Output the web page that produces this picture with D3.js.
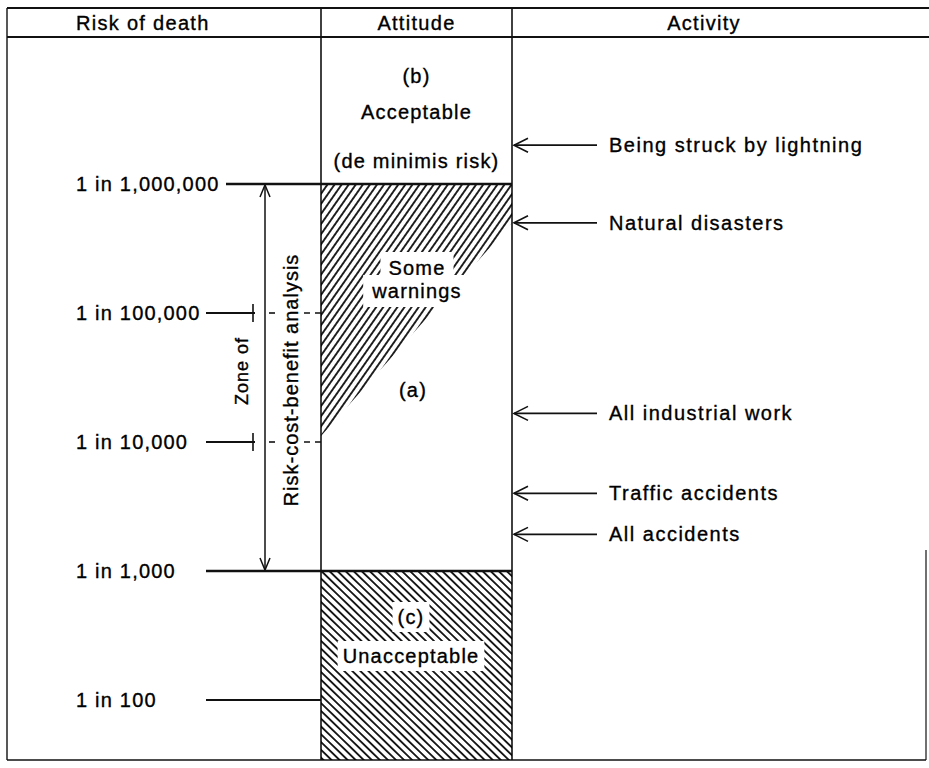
<!DOCTYPE html>
<html>
<head>
<meta charset="utf-8">
<script src="https://cdn.jsdelivr.net/npm/d3@7"></script>
<style>
  body { margin: 0; background: #fff; }
  text { font-family: "Liberation Sans", Arial, sans-serif; fill: #000; stroke: #000; stroke-width: 0.35px; }
</style>
</head>
<body>
<svg id="chart"></svg>
<script>
// ---- data ----
var headers = ["Risk of death", "Attitude", "Activity"];
var riskLevels = [1e-6, 1e-5, 1e-4, 1e-3, 1e-2];
var riskLabels = ["1 in 1,000,000", "1 in 100,000", "1 in 10,000", "1 in 1,000", "1 in 100"];
var activities = ["Being struck by lightning", "Natural disasters", "All industrial work", "Traffic accidents", "All accidents"];
var activityRisk = [5e-7, 2e-6, 6e-5, 2.5e-4, 5.2e-4];
var zoneBounds = [1e-6, 1e-3];          // risk-cost-benefit zone
var warningEdge = [2e-6, 9e-5];         // "some warnings" wedge: right side, left side
var acceptableText = ["(b)", "Acceptable", "(de minimis risk)"];
var warningText = ["Some", "warnings"];
var unacceptableText = ["(c)", "Unacceptable"];

var W = 929, H = 768;
var frame = {left: 7, right: 926, top: 8, header: 37, bottom: 760};
var colX = [frame.left, 321, 512, frame.right];

var svg = d3.select("#chart").attr("width", W).attr("height", H);

var y = d3.scaleLog().domain([1e-6, 1e-2]).range([184, 700]);

// hatch patterns
var defs = svg.append("defs");
function hatch(id, angle, gap) {
  var p = defs.append("pattern")
      .attr("id", id)
      .attr("patternUnits", "userSpaceOnUse")
      .attr("width", gap).attr("height", 12)
      .attr("patternTransform", "rotate(" + angle + ")");
  p.append("line")
      .attr("x1", gap / 2).attr("x2", gap / 2)
      .attr("y1", -1).attr("y2", 13)
      .attr("stroke", "#000").attr("stroke-width", 1.7);
}
hatch("hatch-warn", 35, 5.8);
hatch("hatch-bad", -46, 5.6);

// ---- table frame ----
var g = svg.append("g").attr("stroke", "#111").attr("fill", "none");

g.append("line").attr("x1", frame.left).attr("x2", W).attr("y1", frame.top).attr("y2", frame.top).attr("stroke-width", 1.8);
g.append("line").attr("x1", frame.left).attr("x2", W).attr("y1", frame.header).attr("y2", frame.header).attr("stroke-width", 1.8);
g.append("line").attr("x1", frame.left).attr("x2", frame.right).attr("y1", frame.bottom).attr("y2", frame.bottom).attr("stroke-width", 1.4);
g.append("line").attr("x1", frame.left).attr("x2", frame.left).attr("y1", frame.top).attr("y2", frame.bottom).attr("stroke-width", 1.4);
g.append("line").attr("x1", frame.right).attr("x2", frame.right).attr("y1", 550).attr("y2", frame.bottom).attr("stroke-width", 1.2);

// header text
var headerX = [76, (colX[1] + colX[2]) / 2, 704];
svg.selectAll(".header")
  .data(headers)
  .enter()
  .append("text")
  .attr("class", "header")
  .attr("x", function(d, i) { return headerX[i]; })
  .attr("y", 30)
  .attr("text-anchor", function(d, i) { return i === 0 ? "start" : "middle"; })
  .style("font-size", "20px")
  .style("letter-spacing", "1.3px")
  .text(function(d) { return d; });

// ---- attitude column ----
// unacceptable block
svg.append("rect")
  .attr("x", colX[1]).attr("y", y(zoneBounds[1]))
  .attr("width", colX[2] - colX[1])
  .attr("height", frame.bottom - y(zoneBounds[1]))
  .attr("fill", "url(#hatch-bad)");

// warnings wedge
svg.append("path")
  .attr("d", d3.line()([
    [colX[1], y(zoneBounds[0])],
    [colX[2], y(zoneBounds[0])],
    [colX[2], y(warningEdge[0])],
    [colX[1], y(warningEdge[1])]
  ]) + "Z")
  .attr("fill", "url(#hatch-warn)");

// column borders
[colX[1], colX[2]].forEach(function(x) {
  g.append("line").attr("x1", x).attr("x2", x).attr("y1", frame.top).attr("y2", frame.bottom).attr("stroke-width", 1.6);
});

// text with white knock-out behind it
function knockText(lines, cx, ys, pad) {
  lines.forEach(function(t, i) {
    var grp = svg.append("g");
    var txt = grp.append("text")
      .attr("x", cx).attr("y", ys[i])
      .attr("text-anchor", "middle")
      .attr("dy", "0.35em")
      .style("font-size", "20px")
      .style("letter-spacing", "1.2px")
      .text(t);
    if (pad) {
      var b = txt.node().getBBox();
      grp.insert("rect", "text")
        .attr("x", b.x - pad[0]).attr("y", b.y - pad[1])
        .attr("width", b.width + 2 * pad[0]).attr("height", b.height + 2 * pad[1])
        .attr("fill", "#fff");
    }
  });
}
var attCx = (colX[1] + colX[2]) / 2;
knockText(acceptableText, attCx, [76, 112, 161], null);
knockText(warningText, 417, [268, 291], [8, 5]);
knockText(["(a)"], 413, [390], null);
knockText(unacceptableText, 411, [617, 656], [5, 4]);

// ---- risk scale ----
var levels = svg.selectAll(".level")
  .data(riskLevels)
  .enter()
  .append("g")
  .attr("class", "level");

levels.append("text")
  .attr("x", 76)
  .attr("y", function(d) { return y(d); })
  .attr("dy", "0.35em")
  .style("font-size", "20px")
  .style("letter-spacing", "1.2px")
  .text(function(d, i) { return riskLabels[i]; });

levels.each(function(d, i) {
  var sel = d3.select(this);
  var yy = y(d);
  var x0 = i === 0 ? 226 : 206;
  var inside = d > zoneBounds[0] && d < zoneBounds[1];
  if (inside) {
    sel.append("line").attr("x1", x0).attr("x2", 255).attr("y1", yy).attr("y2", yy)
      .attr("stroke", "#111").attr("stroke-width", 1.8);
    sel.append("line").attr("x1", 253).attr("x2", 253).attr("y1", yy - 9).attr("y2", yy + 9)
      .attr("stroke", "#111").attr("stroke-width", 1.6);
    [[269, 278], [304, colX[1]]].forEach(function(seg) {
      sel.append("line").attr("x1", seg[0]).attr("x2", seg[1]).attr("y1", yy).attr("y2", yy)
        .attr("stroke", "#111").attr("stroke-width", 1.6)
        .attr("stroke-dasharray", "6,5");
    });
  } else {
    var x1 = (d === zoneBounds[0] || d === zoneBounds[1]) ? colX[2] : colX[1];
    sel.append("line").attr("x1", x0).attr("x2", x1).attr("y1", yy).attr("y2", yy)
      .attr("stroke", "#111").attr("stroke-width", x1 === colX[2] ? 2.4 : 1.8);
  }
});

// zone of risk-cost-benefit analysis: double arrow
var zx = 265, zTop = y(zoneBounds[0]), zBot = y(zoneBounds[1]);
var za = svg.append("g").attr("stroke", "#111").attr("fill", "none").attr("stroke-width", 1.5);
za.append("line").attr("x1", zx).attr("x2", zx).attr("y1", zTop + 1).attr("y2", zBot - 1);
za.append("path").attr("d", "M" + (zx - 5) + "," + (zTop + 13) + "L" + zx + "," + (zTop + 1) + "L" + (zx + 5) + "," + (zTop + 13));
za.append("path").attr("d", "M" + (zx - 5) + "," + (zBot - 13) + "L" + zx + "," + (zBot - 1) + "L" + (zx + 5) + "," + (zBot - 13));

svg.append("text")
  .attr("transform", "translate(248," + 371 + ") rotate(-90)")
  .attr("text-anchor", "middle")
  .style("font-size", "18px")
  .style("letter-spacing", "1px")
  .text("Zone of");

svg.append("text")
  .attr("transform", "translate(298," + 380 + ") rotate(-90)")
  .attr("text-anchor", "middle")
  .style("font-size", "20px")
  .style("letter-spacing", "1px")
  .text("Risk-cost-benefit analysis");

// ---- activities ----
var acts = svg.selectAll(".act")
  .data(activities)
  .enter()
  .append("g")
  .attr("class", "act");

var tipX = colX[2] + 2;
acts.append("line")
  .attr("x1", tipX).attr("x2", 597)
  .attr("y1", function(d, i) { return y(activityRisk[i]); })
  .attr("y2", function(d, i) { return y(activityRisk[i]); })
  .attr("stroke", "#111").attr("stroke-width", 1.6);

acts.append("path")
  .attr("d", function(d, i) {
    var yy = y(activityRisk[i]);
    return "M" + (tipX + 14) + "," + (yy - 7) + "L" + tipX + "," + yy + "L" + (tipX + 14) + "," + (yy + 7);
  })
  .attr("fill", "none").attr("stroke", "#111").attr("stroke-width", 1.6);

acts.append("text")
  .attr("x", 609)
  .attr("y", function(d, i) { return y(activityRisk[i]); })
  .attr("dy", "0.35em")
  .style("font-size", "20px")
  .style("letter-spacing", "1.5px")
  .text(function(d) { return d; });
</script>
</body>
</html>
